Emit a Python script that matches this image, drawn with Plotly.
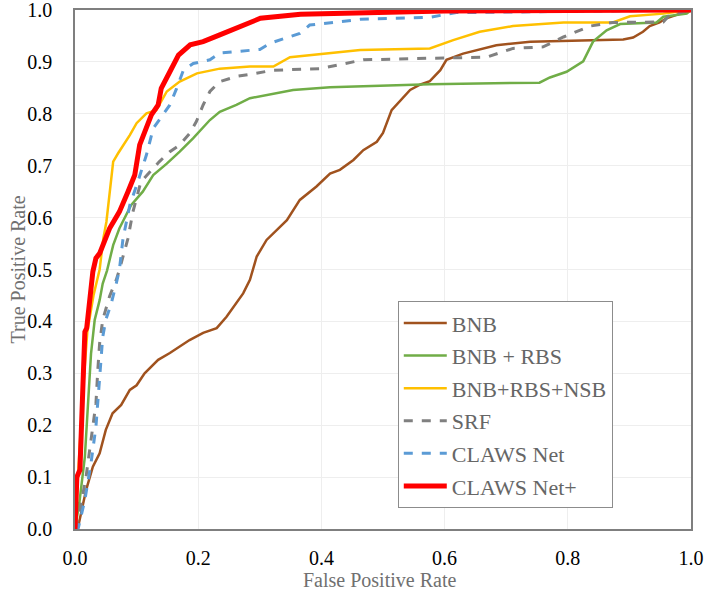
# %% imports
# --------------------
import plotly.graph_objects as go

# %% data
# --------------------
bnb_fpr = [0.0, 0.005, 0.018, 0.029, 0.040, 0.050, 0.061, 0.075, 0.089, 0.100, 0.113, 0.135,
           0.154, 0.170, 0.186, 0.208, 0.230, 0.246, 0.257, 0.273, 0.284, 0.295, 0.311, 0.327,
           0.344, 0.365, 0.392, 0.414, 0.430, 0.452, 0.468, 0.490, 0.500, 0.514, 0.522, 0.544,
           0.560, 0.576, 0.593, 0.603, 0.630, 0.647, 0.684, 0.739, 0.847, 0.890, 0.906, 0.922,
           0.933, 0.949, 0.960, 0.982, 1.0]
bnb_tpr = [0.0, 0.004, 0.075, 0.120, 0.146, 0.191, 0.223, 0.239, 0.268, 0.277, 0.300, 0.326,
           0.339, 0.351, 0.364, 0.378, 0.387, 0.409, 0.428, 0.454, 0.480, 0.525, 0.557, 0.576,
           0.595, 0.634, 0.660, 0.685, 0.692, 0.711, 0.730, 0.746, 0.763, 0.807, 0.817, 0.846,
           0.856, 0.863, 0.884, 0.904, 0.916, 0.921, 0.932, 0.939, 0.942, 0.943, 0.947, 0.958,
           0.969, 0.976, 0.984, 0.993, 1.0]

rbs_fpr = [0.0, 0.007, 0.016, 0.021, 0.026, 0.032, 0.040, 0.045, 0.052, 0.062, 0.072, 0.091,
           0.110, 0.127, 0.149, 0.170, 0.192, 0.219, 0.235, 0.262, 0.284, 0.354, 0.414, 0.576,
           0.754, 0.771, 0.798, 0.825, 0.841, 0.863, 0.885, 0.944, 0.955, 0.993, 1.0]
rbs_tpr = [0.0, 0.050, 0.139, 0.242, 0.338, 0.403, 0.441, 0.473, 0.498, 0.547, 0.579, 0.624,
           0.650, 0.682, 0.704, 0.727, 0.753, 0.788, 0.804, 0.817, 0.830, 0.846, 0.851, 0.857,
           0.860, 0.870, 0.881, 0.901, 0.939, 0.961, 0.973, 0.976, 0.987, 0.993, 1.0]

nsb_fpr = [0.0, 0.005, 0.012, 0.020, 0.030, 0.040, 0.046, 0.051, 0.057, 0.062, 0.070, 0.081,
           0.089, 0.100, 0.116, 0.132, 0.149, 0.170, 0.198, 0.235, 0.284, 0.322, 0.349, 0.463,
           0.576, 0.614, 0.657, 0.711, 0.793, 0.873, 0.901, 0.955, 1.0]
nsb_tpr = [0.0, 0.100, 0.250, 0.380, 0.450, 0.500, 0.560, 0.592, 0.663, 0.708, 0.724, 0.743,
           0.759, 0.782, 0.801, 0.807, 0.843, 0.862, 0.878, 0.887, 0.891, 0.891, 0.909, 0.923,
           0.926, 0.942, 0.958, 0.969, 0.976, 0.976, 0.988, 0.993, 1.0]

srf_fpr = [0.0, 0.007, 0.018, 0.029, 0.034, 0.037, 0.040, 0.045, 0.056, 0.067, 0.072, 0.086,
           0.094, 0.107, 0.121, 0.137, 0.154, 0.170, 0.186, 0.197, 0.208, 0.219, 0.235, 0.262,
           0.284, 0.322, 0.398, 0.425, 0.468, 0.576, 0.668, 0.711, 0.760, 0.793, 0.836, 0.873,
           0.955, 0.965, 1.0]
srf_tpr = [0.0, 0.030, 0.101, 0.191, 0.242, 0.306, 0.358, 0.403, 0.448, 0.480, 0.499, 0.560,
           0.611, 0.669, 0.688, 0.708, 0.727, 0.740, 0.762, 0.785, 0.817, 0.843, 0.862, 0.872,
           0.876, 0.884, 0.887, 0.894, 0.904, 0.907, 0.909, 0.926, 0.929, 0.948, 0.969, 0.976,
           0.977, 0.990, 1.0]

claws_fpr = [0.0, 0.005, 0.016, 0.026, 0.034, 0.040, 0.045, 0.050, 0.059, 0.067, 0.072, 0.078,
             0.089, 0.102, 0.116, 0.127, 0.143, 0.154, 0.165, 0.176, 0.192, 0.219, 0.235, 0.284,
             0.300, 0.317, 0.365, 0.381, 0.463, 0.576, 0.619, 1.0]
claws_tpr = [0.0, 0.0, 0.056, 0.127, 0.197, 0.287, 0.370, 0.403, 0.435, 0.473, 0.499, 0.560,
             0.624, 0.669, 0.721, 0.772, 0.798, 0.817, 0.849, 0.884, 0.897, 0.904, 0.917, 0.923,
             0.924, 0.936, 0.955, 0.971, 0.982, 0.986, 0.995, 1.0]

plus_fpr = [0.0, 0.003, 0.008, 0.013, 0.016, 0.019, 0.029, 0.034, 0.040, 0.056, 0.072, 0.086,
            0.097, 0.105, 0.116, 0.124, 0.135, 0.140, 0.154, 0.168, 0.187, 0.208, 0.235, 0.262,
            0.284, 0.301, 0.366, 0.463, 0.600, 1.0]
plus_tpr = [0.0, 0.100, 0.114, 0.300, 0.380, 0.387, 0.496, 0.522, 0.531, 0.579, 0.611, 0.650,
            0.682, 0.740, 0.772, 0.798, 0.817, 0.849, 0.881, 0.913, 0.933, 0.939, 0.952, 0.965,
            0.974, 0.984, 0.992, 0.995, 0.998, 1.0]

# %% plot
# --------------------
serif = "Liberation Serif, Times New Roman, DejaVu Serif, serif"
title_font = dict(family=serif, size=20, color="#707070")

fig = go.Figure()
series = [
    ("BNB", bnb_fpr, bnb_tpr, "#A0521E", "solid", 2.5),
    ("BNB + RBS", rbs_fpr, rbs_tpr, "#70AD47", "solid", 2.5),
    ("BNB+RBS+NSB", nsb_fpr, nsb_tpr, "#FFC000", "solid", 2.5),
    ("SRF", srf_fpr, srf_tpr, "#808080", "dash", 3),
    ("CLAWS Net", claws_fpr, claws_tpr, "#5B9BD5", "dash", 3),
    ("CLAWS Net+", plus_fpr, plus_tpr, "#FF0000", "solid", 5),
]
for name, x, y, color, dash, w in series:
    fig.add_trace(go.Scatter(x=x, y=y, mode="lines", name=name, legendgroup=name,
                             line=dict(color=color, dash=dash, width=w)))

axis_style = dict(showline=True, linecolor="#7F7F7F", linewidth=1.5, mirror=True,
                  gridcolor="#EEEEEE", gridwidth=1, zeroline=False, automargin=False,
                  tickfont=dict(family=serif, size=20, color="black"),
                  ticks="outside", tickcolor="rgba(0,0,0,0)", ticklabeloverflow="allow")
fig.update_xaxes(range=[0, 1], dtick=0.2, tickformat=".1f", ticklen=10, **axis_style)
fig.update_yaxes(range=[0, 1], dtick=0.1, tickformat=".1f", ticklen=17, **axis_style)

# axis titles as annotations so they can be placed exactly
fig.add_annotation(text="False Positive Rate", xref="paper", yref="paper", x=0.5, y=0,
                   xshift=-4, yshift=-51, yanchor="middle", showarrow=False, font=title_font)
fig.add_annotation(text="True Positive Rate", xref="paper", yref="paper", x=0, y=0.5,
                   xshift=-58, xanchor="center", textangle=-90, showarrow=False,
                   font=title_font)

fig.update_layout(
    width=706, height=592,
    margin=dict(l=75, r=15, t=10, b=63),
    plot_bgcolor="white", paper_bgcolor="white",
    legend=dict(x=0.524, y=0.439, xanchor="left", yanchor="top",
                bgcolor="white", bordercolor="#8C8C8C", borderwidth=1,
                font=dict(family=serif, size=22, color="#666666"),
                traceorder="grouped", tracegroupgap=1, itemwidth=43),
)

# page body has a default 8px margin; drop it so the figure sits at the window corner
fig.write_html("out.html", config={"displayModeBar": False},
               post_script="document.body.style.margin='0';")
